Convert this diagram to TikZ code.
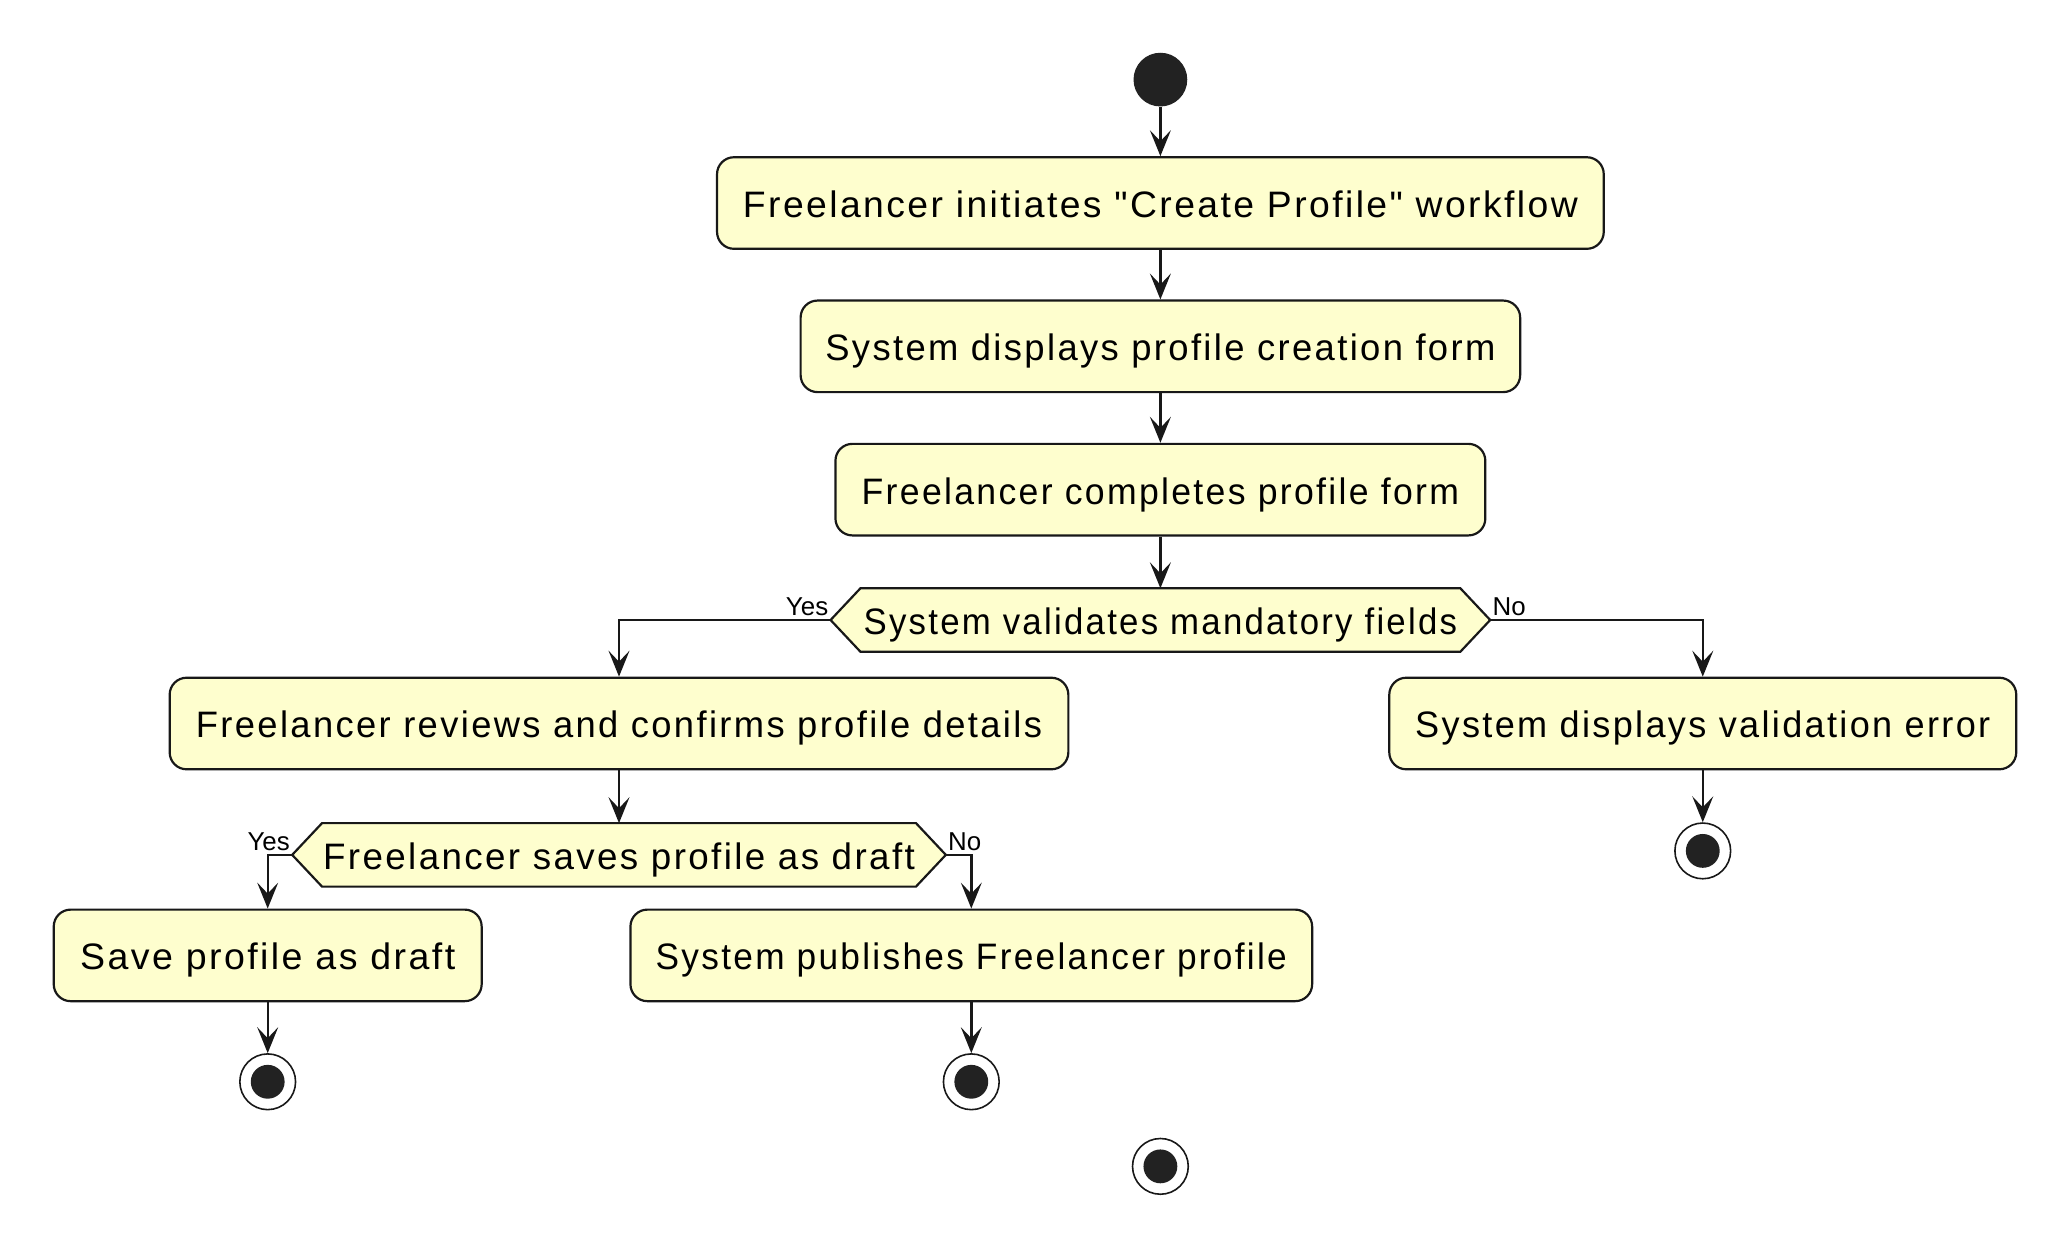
\documentclass[tikz,border=0pt]{standalone}
\usepackage{fontspec}
\usepackage{graphicx}
\setmainfont{Liberation Sans}
\newfontfamily\boxfont[LetterSpace=6.5]{Liberation Sans}
\newfontfamily\lblfont{Liberation Sans}
\usetikzlibrary{arrows.meta,backgrounds,calc}
\definecolor{actfill}{HTML}{FEFECE}
\definecolor{actline}{HTML}{181818}
\definecolor{dotc}{HTML}{222222}
\newcommand{\hsc}[2]{\scalebox{#1}[1]{#2}}
\tikzset{
  x=0.5pt,y=-0.5pt,
  act/.style={draw=actline,fill=actfill,line width=1.1pt,rounded corners=8.5pt,
    inner sep=0pt,minimum height=46pt,text height=14.5pt,text depth=0pt,
    font=\boxfont\fontsize{18.5}{21}\selectfont},
  dec/.style={draw=none,inner sep=0pt,minimum height=31.5pt,text height=14.5pt,text depth=0pt,
    font=\boxfont\fontsize{18.5}{21}\selectfont},
  hex/.style={draw=actline,fill=actfill,line width=1.1pt},
  startnode/.style={circle,fill=dotc,draw=none,minimum size=27pt,inner sep=0pt},
  endnode/.style={circle,draw=actline,fill=white,line width=0.8pt,minimum size=28pt,inner sep=0pt,
    path picture={\fill[dotc] (path picture bounding box.center) circle (8.5pt);}},
  arr/.style={draw=actline,line width=1.2pt,-{Stealth[length=13pt,width=10.5pt,inset=5.5pt]}},
  lbl/.style={font=\lblfont\fontsize{13}{14}\selectfont,inner sep=0pt}
}
\begin{document}
\begin{tikzpicture}
\useasboundingbox (0,0) rectangle (2078,1253);
\node[startnode] (start) at (1166,80) {};
\node[act,minimum width=445.5pt] (b1) at (1166,204) {\hsc{1.013}{Freelancer initiates "Create Profile" workflow}};
\node[act,minimum width=361.5pt] (b2) at (1166,348) {\hsc{0.988}{System displays profile creation form}};
\node[act,minimum width=326.5pt] (b3) at (1166,492) {\hsc{0.967}{Freelancer completes profile form}};
\node[dec,minimum width=331pt] (d1) at (1166,623) {\hsc{0.945}{System validates mandatory fields}};
\node[act,minimum width=451.5pt] (b4) at (622,727) {\hsc{0.987}{Freelancer reviews and confirms profile details}};
\node[act,minimum width=315pt] (b5) at (1711,727) {\hsc{0.98}{System displays validation error}};
\node[endnode] (e5) at (1711,855) {};
\node[dec,minimum width=328pt] (d2) at (622,859) {\hsc{0.998}{Freelancer saves profile as draft}};
\node[act,minimum width=215pt] (b6) at (269,960) {\hsc{1.019}{Save profile as draft}};
\node[act,minimum width=342.5pt] (b7) at (976,960) {\hsc{0.957}{System publishes Freelancer profile}};
\node[endnode] (e6) at (269,1087) {};
\node[endnode] (e7) at (976,1087) {};
\node[endnode] (ef) at (1166,1172) {};
\begin{scope}[on background layer]
\fill[white] (0,0) rectangle (2078,1253);
\draw[hex] (d1.west) -- ([xshift=15pt]d1.north west) -- ([xshift=-15pt]d1.north east) -- (d1.east)
  -- ([xshift=-15pt]d1.south east) -- ([xshift=15pt]d1.south west) -- cycle;
\draw[hex] (d2.west) -- ([xshift=15pt]d2.north west) -- ([xshift=-15pt]d2.north east) -- (d2.east)
  -- ([xshift=-15pt]d2.south east) -- ([xshift=15pt]d2.south west) -- cycle;
\end{scope}
\draw[arr] (start) -- (b1);
\draw[arr] (b1) -- (b2);
\draw[arr] (b2) -- (b3);
\draw[arr] (b3) -- (d1);
\draw[arr] (d1.west) -| (b4.north);
\draw[arr] (d1.east) -| (b5.north);
\draw[arr] (b4) -- (d2);
\draw[arr] (d2.west) -| (b6.north);
\draw[arr] (d2.east) -| (b7.north);
\draw[arr] (b5) -- (e5);
\draw[arr] (b6) -- (e6);
\draw[arr] (b7) -- (e7);
\node[lbl,anchor=south east] (y1) at ([xshift=-1pt,yshift=2pt]d1.west) {Yes};
\node[lbl,anchor=south west] (n1) at ([xshift=1pt,yshift=2pt]d1.east) {No};
\node[lbl,anchor=south east] (y2) at ([xshift=-1pt,yshift=2pt]d2.west) {Yes};
\node[lbl,anchor=south west] (n2) at ([xshift=1pt,yshift=2pt]d2.east) {No};
\end{tikzpicture}
\end{document}
